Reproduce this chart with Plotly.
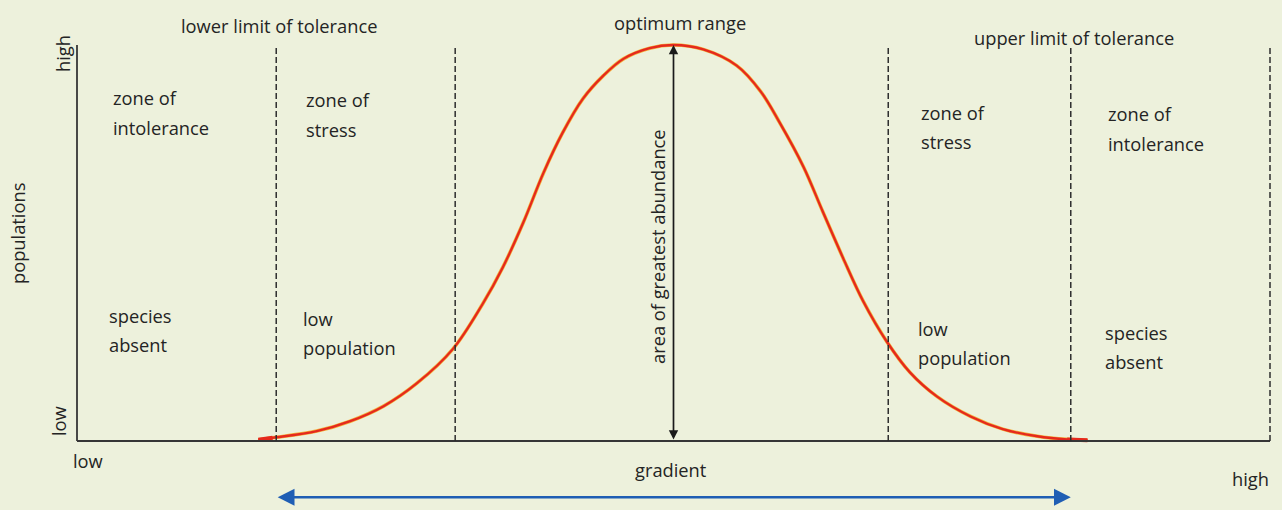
import plotly.graph_objects as go

# Population of a species along an environmental gradient (gradient 0-100, population 0-100)
gradient = [15.2, 16.4, 20.1, 22.9, 25.7, 28.5, 31.5, 34.0, 35.7, 37.4, 39.1, 40.7,
            42.4, 44.1, 45.8, 48.0, 50.0, 52.5, 55.3, 57.3, 58.9, 60.9, 62.5, 64.2,
            65.9, 67.9, 69.8, 72.1, 74.9, 77.6, 80.5, 83.0, 84.7]
population = [0.3, 0.8, 2.5, 5.0, 8.8, 14.6, 23.2, 34.6, 43.9, 55.1, 67.7, 77.8,
              86.4, 92.2, 96.5, 99.2, 100.0, 98.9, 94.8, 88.3, 80.4, 69.2, 58.0, 46.3,
              35.3, 25.0, 17.4, 11.2, 6.2, 3.0, 1.2, 0.4, 0.2]

# Zone boundaries on the gradient axis
boundaries = [16.7, 31.7, 68.0, 83.3, 100.0]
lower_limit, upper_limit = 16.7, 83.3
optimum = 50.0
pop_max = 100.0

W, H = 1282, 510
BG = "#edf1dc"
INK = "#242424"
FONT = "Open Sans"
FS = 18.3

fig = go.Figure()

# curve: warm underlay plus red stroke
fig.add_trace(go.Scatter(x=gradient, y=population, mode="lines",
                         line=dict(color="#f3b13c", width=3.6, shape="spline", smoothing=1.0),
                         hoverinfo="skip", showlegend=False))
fig.add_trace(go.Scatter(x=gradient, y=population, mode="lines",
                         line=dict(color="#e5291d", width=2.3, shape="spline", smoothing=1.0),
                         hoverinfo="skip", showlegend=False))
# heavier red at both tails where the curve meets the axis
for seg in (slice(0, 2), slice(-2, None)):
    fig.add_trace(go.Scatter(x=gradient[seg], y=population[seg], mode="lines",
                             line=dict(color="#e5291d", width=4),
                             hoverinfo="skip", showlegend=False))

shapes = []
# axes
shapes.append(dict(type="line", xref="x", yref="y", x0=0, y0=0, x1=0, y1=pop_max,
                   line=dict(color="#363636", width=1.8)))
shapes.append(dict(type="line", xref="x", yref="y", x0=0, y0=0, x1=boundaries[-1], y1=0,
                   line=dict(color="#363636", width=1.9)))
# dashed zone boundaries
for b in boundaries:
    shapes.append(dict(type="line", xref="x", yref="y", x0=b, y0=0, x1=b, y1=pop_max,
                       line=dict(color="#2e2e2e", width=1.5, dash="6px,3px")))

annotations = []
# double-headed arrow: area of greatest abundance
annotations.append(dict(x=optimum, y=pop_max, ax=optimum, ay=0, xref="x", yref="y",
                        axref="x", ayref="y", text="", showarrow=True, arrowhead=2,
                        arrowside="end+start", arrowsize=1.1, arrowwidth=1.7,
                        arrowcolor="#1a1a1a", standoff=0, startstandoff=0))
# blue tolerance-range arrow below the axis
annotations.append(dict(x=upper_limit, y=-14.2, ax=lower_limit, ay=-14.2, xref="x", yref="y",
                        axref="x", ayref="y", text="", showarrow=True, arrowhead=2,
                        arrowside="end+start", arrowsize=1.4, arrowwidth=2.4,
                        arrowcolor="#1f5eb4", standoff=0, startstandoff=0))


def label(text, px, py, anchor="left", angle=0, size=FS):
    annotations.append(dict(text=text, x=px / W, y=1 - py / H, xref="paper", yref="paper",
                            xanchor=anchor, yanchor="middle", showarrow=False,
                            textangle=angle, font=dict(family=FONT, size=size, color=INK)))


label("lower limit of tolerance", 179, 25)
label("optimum range", 680, 23, anchor="center")
label("upper limit of tolerance", 972, 38)
label("high", 63, 54, anchor="center", angle=-90)
label("low", 58, 421, anchor="center", angle=-90)
label("populations", 18, 234, anchor="center", angle=-90)
label("low", 71, 460)
label("gradient", 671, 469, anchor="center")
label("high", 1250, 478, anchor="center")
label("area of greatest abundance", 657, 246, anchor="center", angle=-90)

for lines, px, py in [(("zone of", "intolerance"), 111, 98),
                      (("zone of", "stress"), 304, 100),
                      (("species", "absent"), 107, 315),
                      (("low", "population"), 301, 318),
                      (("zone of", "stress"), 919, 112),
                      (("zone of", "intolerance"), 1106, 114),
                      (("low", "population"), 916, 328),
                      (("species", "absent"), 1103, 332)]:
    for i, t in enumerate(lines):
        label(t, px, py + 29 * i)

# pixel mapping: gradient 0 -> x=77px, 100 -> x=1270px; population 0 -> y=441px, 100 -> y=45px
gx = (1270 - 77) / 100.0
py_unit = (441 - 45) / 100.0
fig.update_layout(
    width=W, height=H, margin=dict(l=0, r=0, t=0, b=0),
    paper_bgcolor=BG, plot_bgcolor=BG,
    xaxis=dict(range=[-77 / gx, (W - 77) / gx], visible=False, fixedrange=True),
    yaxis=dict(range=[(441 - H) / py_unit, 441 / py_unit], visible=False, fixedrange=True),
    shapes=shapes, annotations=annotations, showlegend=False,
)

fig.write_html("out.html")
